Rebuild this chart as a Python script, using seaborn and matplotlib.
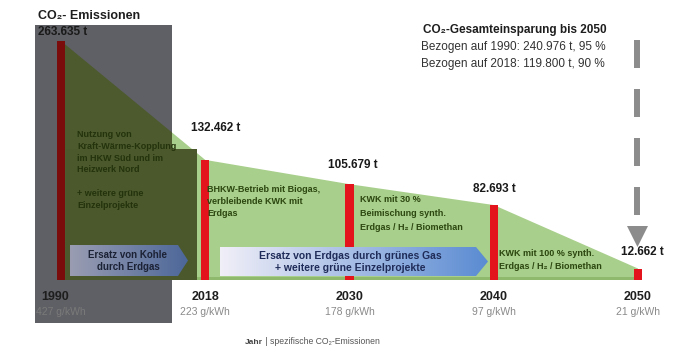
import numpy as np
import pandas as pd
import matplotlib
matplotlib.use("Agg")
import matplotlib.pyplot as plt
from matplotlib.patches import Polygon, Rectangle
from matplotlib.colors import LinearSegmentedColormap
import seaborn as sns

# ---------------- data ----------------
years = ["1990", "2018", "2030", "2040", "2050"]
emissions_t = [263.635, 132.462, 105.679, 82.693, 12.662]   # in 1000 t
value_labels = ["263.635 t", "132.462 t", "105.679 t", "82.693 t", "12.662 t"]
specific = ["427 g/kWh", "223 g/kWh", "178 g/kWh", "97 g/kWh", "21 g/kWh"]
bar_colors = ["#7a0c0c", "#e3141c", "#e3141c", "#e3141c", "#e3141c"]
savings_title = "CO\u2082-Gesamteinsparung bis 2050"
savings_lines = ["Bezogen auf 1990: 240.976 t, 95 %",
                 "Bezogen auf 2018: 119.800 t, 90 %"]
measures = [
    "Nutzung von\nKraft-Wärme-Kopplung\nim HKW Süd und im\nHeizwerk Nord\n\n+ weitere grüne\nEinzelprojekte",
    "BHKW-Betrieb mit Biogas,\nverbleibende KWK mit\nErdgas",
    "KWK mit 30 %\nBeimischung synth.\nErdgas / H\u2082 / Biomethan",
    "KWK mit 100 % synth.\nErdgas / H\u2082 / Biomethan",
]
arrow_texts = ["Ersatz von Kohle\ndurch Erdgas",
               "Ersatz von Erdgas durch grünes Gas\n+ weitere grüne Einzelprojekte"]

df = pd.DataFrame({"Jahr": years, "CO2": emissions_t})

sns.set_style("white")
plt.rcParams["font.family"] = ["Liberation Sans", "DejaVu Sans"]

W, H = 687, 352
fig = plt.figure(figsize=(W / 100, H / 100), dpi=100)
ax = fig.add_axes([0, 0, 1, 1])

# pixel <-> data helpers (layout only)
X0PIX, XSTEP, BASE, YSCALE = 61.0, 144.25, 280.0, 0.9066
def dx(px):
    return (px - X0PIX) / XSTEP
def dy(py):
    return (BASE - py) / YSCALE

xs = np.arange(len(years))
vals = np.array(emissions_t)

# light green area under the emission path
poly_pts = [(xs[0], 0)] + list(zip(xs, vals)) + [(xs[-1], 0)]
ax.add_patch(Polygon(poly_pts, closed=True, facecolor="#a8cf8b", edgecolor="none", zorder=1))
# slightly darker strip along the base
ax.add_patch(Rectangle((xs[0], 0), xs[-1] - xs[0], dy(277), facecolor="#8fba6e",
                       edgecolor="none", zorder=1.5))

# gray 1990 box
box = Rectangle((dx(35), dy(323)), dx(172) - dx(35), dy(25) - dy(323),
                facecolor="#5f6065", edgecolor="none", zorder=2)
ax.add_patch(box)
# olive part of the area inside the gray box
olive = Polygon(poly_pts, closed=True, facecolor="#4c5a2d", edgecolor="none", zorder=3)
ax.add_patch(olive)
olive.set_clip_path(box)
# dark text box 1990-2018
ax.add_patch(Rectangle((dx(66), 0), dx(197) - dx(66), dy(149), facecolor="#4a582b",
                       edgecolor="none", zorder=3))

# bars
sns.barplot(data=df, x="Jahr", y="CO2", hue="Jahr", palette=bar_colors, width=0.058,
            legend=False, ax=ax, zorder=5, saturation=1, linewidth=0, edgecolor="none")

# gradient arrows
def grad_arrow(x0, xb, xt, y0, y1, c0, c1, z):
    pts = [(x0, y0), (xb, y0), (xt, (y0 + y1) / 2), (xb, y1), (x0, y1)]
    p = Polygon(pts, closed=True, facecolor="none", edgecolor="none", zorder=z)
    ax.add_patch(p)
    cmap = LinearSegmentedColormap.from_list("g", [c0, c1])
    grad = np.linspace(0, 1, 256).reshape(1, -1)
    im = ax.imshow(grad, extent=[x0, xt, y0, y1], cmap=cmap, aspect="auto",
                   zorder=z, interpolation="bicubic")
    im.set_clip_path(p)

grad_arrow(dx(70), dx(178), dx(188), dy(276), dy(245), "#9a9db2", "#4c6799", 6)
grad_arrow(dx(220), dx(476), dx(488), dy(276), dy(247), "#f1eff8", "#5a8bd2", 6)
ax.text(dx(128), dy(261), arrow_texts[0], ha="center", va="center", fontsize=7,
        fontweight="bold", color="#1c2235", zorder=7, linespacing=1.15)
ax.text(dx(350), dy(262), arrow_texts[1], ha="center", va="center", fontsize=7.5,
        fontweight="bold", color="#1f2b58", zorder=7, linespacing=1.15)

# measure texts
ax.text(dx(77), dy(130), measures[0], ha="left", va="top", fontsize=6.5,
        fontweight="bold", color="#24330c", zorder=7, linespacing=1.4)
ax.text(dx(207), dy(185), measures[1], ha="left", va="top", fontsize=6.5,
        fontweight="bold", color="#2c4710", zorder=7, linespacing=1.45)
ax.text(dx(360), dy(195), measures[2], ha="left", va="top", fontsize=6.5,
        fontweight="bold", color="#2c4710", zorder=7, linespacing=1.75)
ax.text(dx(499), dy(249), measures[3], ha="left", va="top", fontsize=6.5,
        fontweight="bold", color="#2c4710", zorder=7, linespacing=1.6)

# value labels
offsets = [(-23, 9, "left"), (10, 32, "center"), (3, 19, "center"),
           (1, 16, "center"), (4, 17, "center")]
for i, (lab, (ox, oy, ha)) in enumerate(zip(value_labels, offsets)):
    ax.annotate(lab, xy=(xs[i], vals[i]), xytext=(ox, oy), textcoords="offset pixels",
                ha=ha, va="center", fontsize=8.5, fontweight="bold", color="#1a1a1a",
                zorder=8)

# year labels
for i, (yr, sp) in enumerate(zip(years, specific)):
    xoff = -0.04 if i == 0 else 0
    ax.text(xs[i] + xoff, dy(297), yr, ha="center", va="center", fontsize=9,
            fontweight="bold", color="#1e1e1e", zorder=8)
    ax.text(xs[i], dy(312), sp, ha="center", va="center", fontsize=7.5,
            color="#8a8a8a" if i else "#7a7a7a", zorder=8)

# titles
fig.text(38 / W, 1 - 16 / H, "CO\u2082- Emissionen", ha="left", va="center",
         fontsize=9, fontweight="bold", color="#1e1e1e")
fig.text(423 / W, 1 - 30 / H, savings_title, ha="left", va="center",
         fontsize=8.5, fontweight="bold", color="#1e1e1e")
for k, line in enumerate(savings_lines):
    fig.text(421 / W, 1 - (47 + 17 * k) / H, line, ha="left", va="center",
             fontsize=8.5, color="#333333")

# dashed savings arrow to 2050
lw = 4.3
ax.plot([xs[-1] - 0.01, xs[-1] - 0.01], [dy(40), dy(226)], color="#8c8c8c", lw=lw,
        linestyle=(0, (28 * 0.72 / lw, 21 * 0.72 / lw)), solid_capstyle="butt",
        dash_capstyle="butt", zorder=8)
ax.add_patch(Polygon([(dx(627), dy(226)), (dx(648), dy(226)), (dx(637.5), dy(247))],
                     closed=True, facecolor="#8c8c8c", edgecolor="none", zorder=8))

# axis caption
fig.text(245 / W, 1 - 342 / H, "Jahr", ha="left", va="center", fontsize=6,
         fontweight="bold", color="#444444")
fig.text(263 / W, 1 - 342 / H, " | spezifische CO\u2082-Emissionen", ha="left",
         va="center", fontsize=6.2, color="#555555")

ax.set_xlim(dx(0), dx(W))
ax.set_ylim(dy(H), dy(0))
ax.axis("off")

fig.savefig("out.png", dpi=100)
